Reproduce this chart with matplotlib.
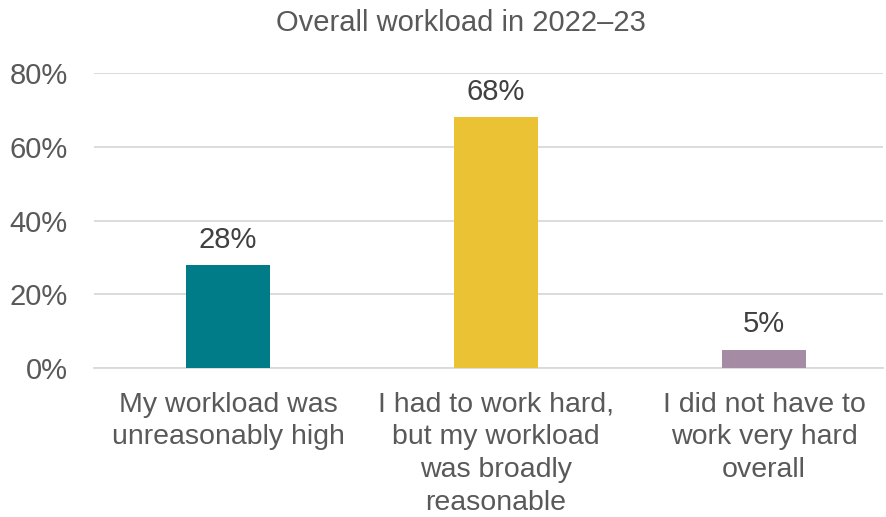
import matplotlib.pyplot as plt
from matplotlib.ticker import PercentFormatter

plt.rcParams['font.family'] = ['Liberation Sans', 'DejaVu Sans']

categories = [
    "My workload was\nunreasonably high",
    "I had to work hard,\nbut my workload\nwas broadly\nreasonable",
    "I did not have to\nwork very hard\noverall",
]
values = [28, 68, 5]
colors = ["#007C89", "#EAC234", "#A68BA5"]
yticks = [0, 20, 40, 60, 80]

fig = plt.figure(figsize=(8.87, 5.17), dpi=100)
# axes box in pixels: left 94, right 883, bottom at 0% (y=368), top at 80% (y=73)
W, H = 887, 517
ax = fig.add_axes([94 / W, (H - 368) / H, (883 - 94) / W, (368 - 73) / H])

x = range(len(values))
ax.bar(x, values, width=0.317, color=colors, zorder=3)

for xi, v in zip(x, values):
    ax.text(xi, v + 3, f"{v}%", ha="center", va="bottom",
            fontsize=21, color="#404040")

ax.set_ylim(0, 80)
ax.set_xlim(-0.5, 2.5 - 15 / 268)
ax.set_yticks(yticks)
ax.yaxis.set_major_formatter(PercentFormatter(decimals=0))
ax.grid(axis="y", color="#D9D9D9", linewidth=1.3, zorder=0)
ax.set_axisbelow(True)

ax.set_xticks(list(x))
ax.set_xticklabels(categories, fontsize=20.5, color="#595959", linespacing=1.34)
ax.tick_params(axis="y", labelsize=21, labelcolor="#595959", length=0, pad=19)
ax.tick_params(axis="x", length=0, pad=17)
for side in ["top", "right", "left"]:
    ax.spines[side].set_visible(False)
ax.spines["bottom"].set_color("#D9D9D9")
ax.spines["bottom"].set_linewidth(1.3)

fig.text(461 / W, 1 - 23 / H, "Overall workload in 2022\u201323", ha="center",
         va="center", fontsize=21, color="#595959")

fig.savefig("out.png", dpi=100)
